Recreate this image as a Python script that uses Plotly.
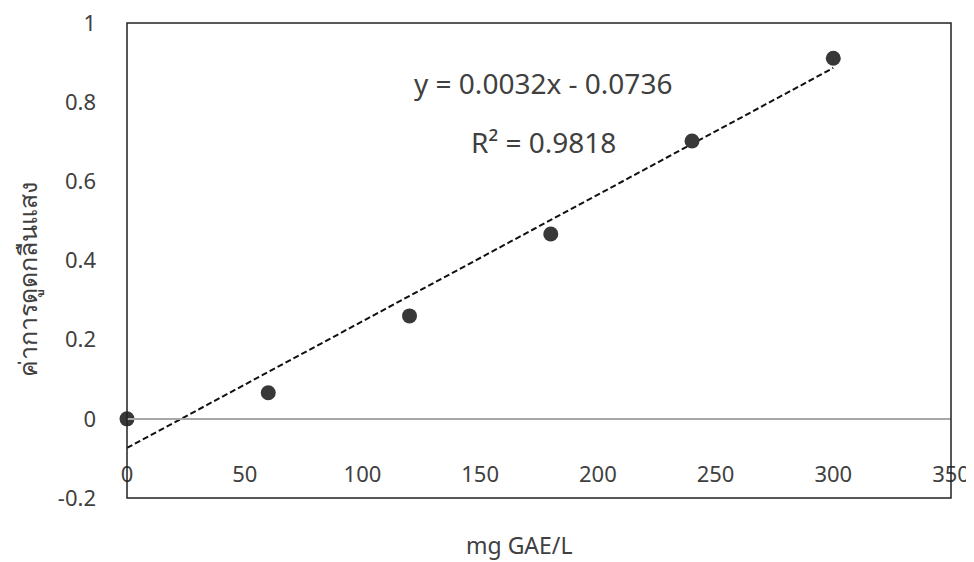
import plotly.graph_objects as go

# Data
conc = [0, 60, 120, 180, 240, 300]            # mg GAE/L
absorb = [0.0, 0.066, 0.26, 0.467, 0.702, 0.911]
slope = 0.0032
intercept = -0.0736
eq_text = "y = 0.0032x - 0.0736"
r2_text = "R² = 0.9818"
x_ticks = [0, 50, 100, 150, 200, 250, 300, 350]
y_ticks = [-0.2, 0, 0.2, 0.4, 0.6, 0.8, 1.0]
y_tick_text = ["-0.2", "0", "0.2", "0.4", "0.6", "0.8", "1"]
x_title = "mg GAE/L"
y_title = "ค่าการดูดกลืนแสง"

FONT = "Noto Sans, DejaVu Sans, sans-serif"
TXT = "#404040"

trend_x = [min(conc), max(conc)]
trend_y = [slope * v + intercept for v in trend_x]

fig = go.Figure()
fig.add_trace(go.Scatter(x=trend_x, y=trend_y, mode="lines",
                         line=dict(color="#111111", width=2, dash="6px,3px"),
                         hoverinfo="skip", showlegend=False))
fig.add_trace(go.Scatter(x=conc, y=absorb, mode="markers", cliponaxis=False,
                         marker=dict(size=15, color="#383838"),
                         showlegend=False))

# page body has an 8px default margin, so the figure is shrunk/shifted by 8px
fig.update_layout(
    width=966, height=554,
    margin=dict(l=119, r=23, t=15, b=64),
    paper_bgcolor="white", plot_bgcolor="white",
    font=dict(family=FONT, size=22, color=TXT),
    xaxis=dict(range=[0, 350], tickvals=x_ticks, showgrid=False, zeroline=False,
               showline=True, linecolor="#a8a8a8", linewidth=1.5,
               anchor="free", position=1/6, ticks="", automargin=False,
               ticklabeloverflow="allow",
               ticklabelstandoff=36, tickfont=dict(size=22, color=TXT)),
    yaxis=dict(range=[-0.2, 1.0], tickvals=y_ticks, ticktext=y_tick_text,
               showgrid=False, zeroline=False, showline=False, ticks="",
               automargin=False, ticklabeloverflow="allow",
               ticklabelstandoff=30, tickfont=dict(size=22, color=TXT)),
    shapes=[dict(type="rect", xref="paper", yref="paper", x0=0, x1=1, y0=0, y1=1,
                 line=dict(color="#222222", width=1.5), layer="above")],
    annotations=[
        dict(text=eq_text, x=176.7, y=0.848, xref="x", yref="y", showarrow=False,
             font=dict(size=28, color=TXT), xanchor="center", yanchor="middle"),
        dict(text=r2_text, x=177, y=0.70, xref="x", yref="y", showarrow=False,
             font=dict(size=28, color=TXT), xanchor="center", yanchor="middle"),
        dict(text=x_title, x=0.4757, y=-0.098, xref="paper", yref="paper",
             showarrow=False, font=dict(size=23, color=TXT),
             xanchor="center", yanchor="middle"),
        dict(text=y_title, x=-0.121, y=0.459, xref="paper", yref="paper",
             showarrow=False, textangle=-90, font=dict(size=25, color=TXT),
             xanchor="center", yanchor="middle"),
    ],
)

fig.write_html("out.html")
